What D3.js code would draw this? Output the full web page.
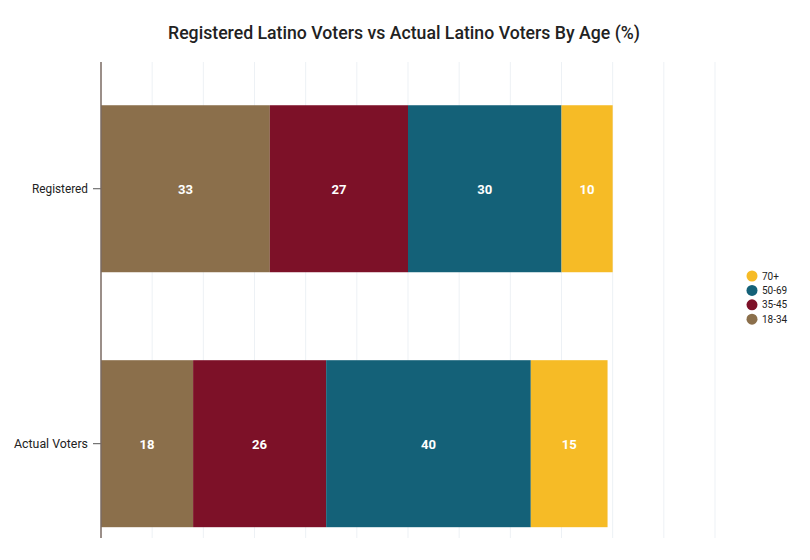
<!DOCTYPE html>
<html>
<head>
<meta charset="utf-8">
<script src="https://cdn.jsdelivr.net/npm/d3@7"></script>
<style>
  html, body { margin: 0; padding: 0; background: #fff; }
  svg { display: block; font-family: Roboto, "Noto Sans", sans-serif; }
</style>
</head>
<body>
<svg id="chart" width="810" height="560"></svg>
<script>
const categories = ["Registered", "Actual Voters"];
const ageGroups = ["18-34", "35-45", "50-69", "70+"];
const registeredValues = [33, 27, 30, 10];
const actualValues = [18, 26, 40, 15];
const xTicks = [0, 10, 20, 30, 40, 50, 60, 70, 80, 90, 100, 110, 120];
const colors = ["#8b6f4b", "#7d1128", "#146178", "#f6bb26"];
const title = "Registered Latino Voters vs Actual Latino Voters By Age (%)";

const svg = d3.select("#chart");
const mLeft = 101, mRight = 715, mTop = 62, mBottom = 538;

const rows = categories.map((c, i) => {
  const vals = i === 0 ? registeredValues : actualValues;
  const o = { category: c };
  ageGroups.forEach((g, j) => o[g] = vals[j]);
  return o;
});

const x = d3.scaleLinear().domain([0, 120]).range([mLeft, mRight]);
const y = d3.scaleBand().domain(categories).range([mTop, mBottom])
  .paddingInner(0.345).paddingOuter(0.106).align(0.8);
const color = d3.scaleOrdinal().domain(ageGroups).range(colors);

// gridlines
svg.append("g").selectAll("line").data(xTicks.slice(1)).join("line")
  .attr("x1", d => x(d)).attr("x2", d => x(d))
  .attr("y1", mTop).attr("y2", mBottom)
  .attr("stroke", "#edf1f5").attr("stroke-width", 1);

// title
svg.append("text")
  .attr("x", 404).attr("y", 39)
  .attr("text-anchor", "middle")
  .attr("font-size", 19)
  .attr("font-weight", 500)
  .attr("fill", "#222")
  .attr("textLength", 472).attr("lengthAdjust", "spacingAndGlyphs")
  .text(title);

const stack = d3.stack().keys(ageGroups)(rows);

const layers = svg.append("g").selectAll("g").data(stack).join("g")
  .attr("fill", d => color(d.key));

layers.selectAll("rect").data(d => d).join("rect")
  .attr("x", d => x(d[0]))
  .attr("width", d => x(d[1]) - x(d[0]))
  .attr("y", d => y(d.data.category))
  .attr("height", y.bandwidth());

layers.selectAll("text").data(d => d.map(v => ({ v, key: d.key }))).join("text")
  .attr("x", d => (x(d.v[0]) + x(d.v[1])) / 2)
  .attr("y", d => y(d.v.data.category) + y.bandwidth() / 2)
  .attr("dy", "0.36em")
  .attr("text-anchor", "middle")
  .attr("font-size", 13.5)
  .attr("font-weight", "bold")
  .attr("fill", "#fff")
  .attr("textLength", 15).attr("lengthAdjust", "spacingAndGlyphs")
  .text(d => d.v.data[d.key]);

// y axis
const yAxis = d3.axisLeft(y).tickSize(8).tickPadding(5);
const ya = svg.append("g").attr("transform", `translate(${mLeft},0)`).call(yAxis);
ya.select(".domain").remove();
ya.selectAll(".tick line").attr("stroke", "#555");
ya.selectAll(".tick text").attr("font-size", 12.5).attr("fill", "#222")
  .attr("font-family", "Roboto, sans-serif")
  .attr("textLength", (d, i) => [56, 74][i]).attr("lengthAdjust", "spacingAndGlyphs");
svg.append("line")
  .attr("x1", mLeft).attr("x2", mLeft).attr("y1", mTop).attr("y2", mBottom)
  .attr("stroke", "#7a6a62").attr("stroke-width", 1.5);

// legend
const legend = svg.append("g").selectAll("g").data(ageGroups.slice().reverse()).join("g")
  .attr("transform", (d, i) => `translate(752,${276 + i * 14.4})`);
legend.append("circle").attr("r", 5.5).attr("fill", d => color(d));
legend.append("text").attr("x", 10).attr("dy", "0.35em")
  .attr("font-size", 10).attr("fill", "#222").text(d => d);
</script>
</body>
</html>
